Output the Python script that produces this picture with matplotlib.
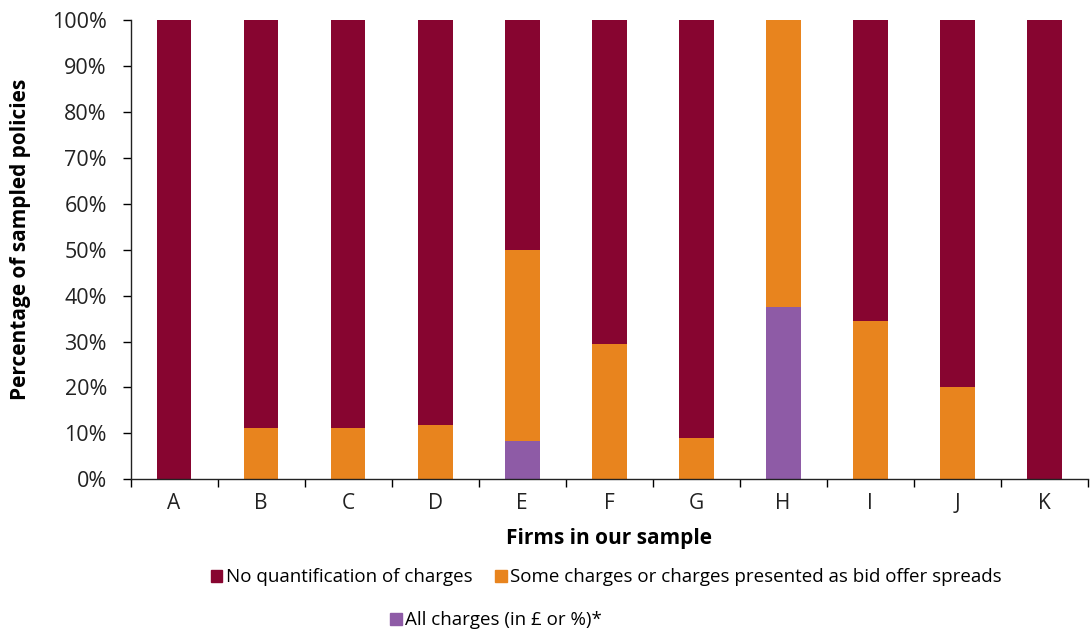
import numpy as np
import matplotlib.pyplot as plt
from matplotlib.patches import Patch

plt.rcParams['font.family'] = ['Open Sans', 'DejaVu Sans']

# Share of sampled policies per firm (%)
firms = ['A', 'B', 'C', 'D', 'E', 'F', 'G', 'H', 'I', 'J', 'K']
all_charges = [0, 0, 0, 0, 8.3, 0, 0, 37.5, 0, 0, 0]
some_charges = [0, 11.1, 11.1, 11.8, 41.7, 29.4, 9.1, 62.5, 34.5, 20.0, 0]
no_quant = [100 - a - s for a, s in zip(all_charges, some_charges)]

labels = ['No quantification of charges',
          'Some charges or charges presented as bid offer spreads',
          'All charges (in £ or %)*']
colors = ['#870530', '#E8841E', '#8E5BA6']

fig = plt.figure(figsize=(10.91, 6.29), dpi=100)
ax = fig.add_axes([0.1197, 0.238, 0.8772, 0.730])

x = np.arange(len(firms))
w = 0.4
ax.bar(x, all_charges, w, color=colors[2], linewidth=0)
ax.bar(x, some_charges, w, bottom=all_charges, color=colors[1], linewidth=0)
bottom2 = [a + s for a, s in zip(all_charges, some_charges)]
ax.bar(x, no_quant, w, bottom=bottom2, color=colors[0], linewidth=0)

ax.set_xlim(-0.5, len(firms) - 0.5)
ax.set_ylim(0, 100)
ax.set_yticks(np.arange(0, 101, 10))
ax.set_yticklabels([f'{v}%' for v in range(0, 101, 10)], fontsize=15.5, color='#222222')
ax.set_xticks(x)
ax.set_xticklabels(firms, fontsize=15, color='#222222')
ax.tick_params(axis='x', length=0, pad=10)
ax.set_xticks(np.arange(-0.5, len(firms), 1), minor=True)
ax.tick_params(axis='x', which='minor', length=6, width=1, direction='out')
ax.tick_params(axis='y', length=6, width=1, direction='out', pad=11)

for s in ['top', 'right']:
    ax.spines[s].set_visible(False)
for s in ['left', 'bottom']:
    ax.spines[s].set_color('#222222')
    ax.spines[s].set_linewidth(1)

ax.set_ylabel('Percentage of sampled policies', fontsize=15, fontweight='bold')
ax.yaxis.set_label_coords(-0.104, 0.523)
ax.set_xlabel('Firms in our sample', fontsize=15, fontweight='bold', labelpad=10)

h = [Patch(color=c) for c in colors]
fig.legend(h[:2], labels[:2], loc='center', bbox_to_anchor=(0.556, 0.082), ncol=2,
           frameon=False, fontsize=13.5, handlelength=0.6, handleheight=0.6,
           handletextpad=0.2, columnspacing=1.2)
fig.legend(h[2:], labels[2:], loc='center', bbox_to_anchor=(0.455, 0.014),
           frameon=False, fontsize=13.5, handlelength=0.6, handleheight=0.6,
           handletextpad=0.2)

fig.savefig('out.png', dpi=100)
